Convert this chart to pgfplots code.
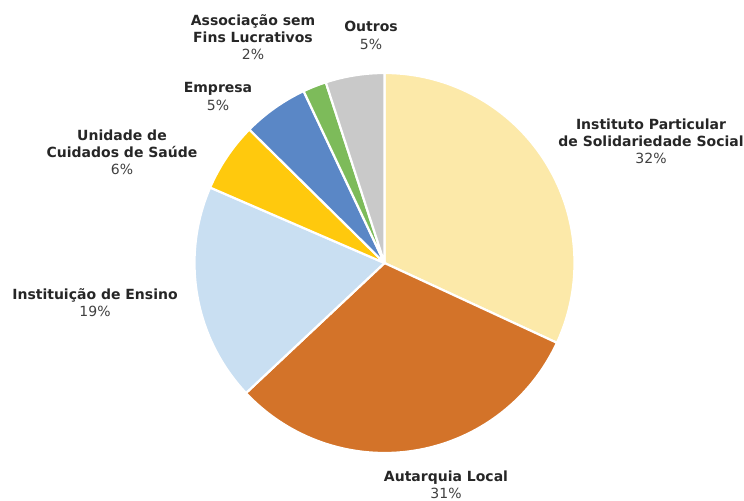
\documentclass[border=0pt]{standalone}
\usepackage{pgfplots}
\pgfplotsset{compat=1.18}
\usepackage{fontspec}
\setmainfont{DejaVu Sans}
\definecolor{cA}{HTML}{FCE9A9}
\definecolor{cB}{HTML}{D37329}
\definecolor{cC}{HTML}{C9DFF2}
\definecolor{cD}{HTML}{FFC90D}
\definecolor{cE}{HTML}{5A87C6}
\definecolor{cF}{HTML}{7DBB5A}
\definecolor{cG}{HTML}{C9C9C9}
\definecolor{txt}{HTML}{262626}
\definecolor{txtb}{HTML}{404040}
\begin{document}
\begin{tikzpicture}
\begin{axis}[scale only axis, width=372pt, height=250pt,
  xmin=0, xmax=744, ymin=0, ymax=500, hide axis, clip=false]
\path (axis cs:0,0) (axis cs:744,500);
\xdef\cum{0}
\foreach \v/\c in {31.9/cA,31.1/cB,18.5/cC,5.9/cD,5.6/cE,2.0/cF,5.0/cG}{
  \pgfmathsetmacro\a{90-3.6*\cum}
  \pgfmathsetmacro\b{90-3.6*(\cum+\v)}
  \edef\tmp{\noexpand\filldraw[fill=\c,draw=white,line width=1.1pt,line join=round] (axis cs:384.5,237) -- ++(\a:95pt) arc[start angle=\a,end angle=\b,radius=95pt] -- cycle;}
  \tmp
  \pgfmathsetmacro\n{\cum+\v}
  \xdef\cum{\n}
}
\tikzset{lbl/.style={align=center, font=\fontsize{7}{8.6}\selectfont, text=txt, inner sep=0pt}}
\node[lbl] at (axis cs:651,359) {\textbf{Instituto Particular}\\\textbf{de Solidariedade Social}\\\textcolor{txtb}{32\%}};
\node[lbl] at (axis cs:446,15.5) {\textbf{Autarquia Local}\\\textcolor{txtb}{31\%}};
\node[lbl] at (axis cs:95,197.5) {\textbf{Instituição de Ensino}\\\textcolor{txtb}{19\%}};
\node[lbl] at (axis cs:122,348) {\textbf{Unidade de}\\\textbf{Cuidados de Saúde}\\\textcolor{txtb}{6\%}};
\node[lbl] at (axis cs:218,403.5) {\textbf{Empresa}\\\textcolor{txtb}{5\%}};
\node[lbl] at (axis cs:253,463) {\textbf{Associação sem}\\\textbf{Fins Lucrativos}\\\textcolor{txtb}{2\%}};
\node[lbl] at (axis cs:371,464.5) {\textbf{Outros}\\\textcolor{txtb}{5\%}};
\end{axis}
\end{tikzpicture}
\end{document}
